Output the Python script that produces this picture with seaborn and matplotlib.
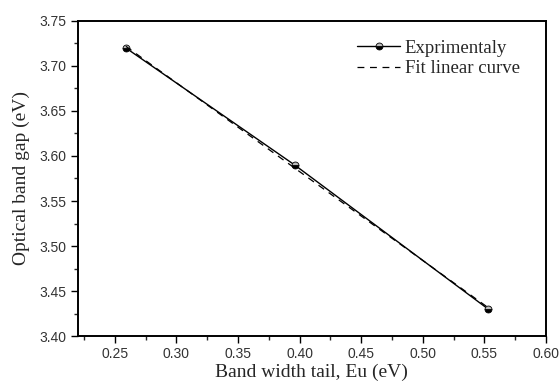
import numpy as np
import seaborn as sns
import matplotlib.pyplot as plt

# Band width tail vs optical band gap
eu = [0.259, 0.396, 0.553]
gap = [3.720, 3.590, 3.430]

sns.set_style("ticks")
plt.rcParams['font.family'] = ['Liberation Sans', 'DejaVu Sans']

fig = plt.figure(figsize=(5.6, 3.81), dpi=100)
ax = fig.add_axes([0.139, 0.118, 0.836, 0.827])

# linear fit
slope, icpt = np.polyfit(eu, gap, 1)
fit_x = np.array([eu[0], eu[-1]])
fit_y = slope * fit_x + icpt

sns.lineplot(x=eu, y=gap, ax=ax, color='black', lw=1.0, marker='o', markersize=5,
             fillstyle='bottom', markerfacecoloralt='#bbbbbb', markeredgecolor='black',
             markeredgewidth=0.6, label='Exprimentaly')
sns.lineplot(x=fit_x, y=fit_y, ax=ax, color='black', lw=0.9, ls=(0, (5.5, 4.5)),
             label='Fit linear curve')

ax.set_xlim(0.22, 0.60)
ax.set_ylim(3.40, 3.75)
ax.set_xticks(np.arange(0.25, 0.601, 0.05))
ax.set_yticks(np.arange(3.40, 3.751, 0.05))
ax.set_xticks(np.arange(0.225, 0.60, 0.05), minor=True)
ax.set_yticks(np.arange(3.425, 3.75, 0.05), minor=True)
ax.tick_params(which='major', direction='out', length=5, width=1, labelsize=10,
               colors='black', labelcolor='#333333', pad=3)
ax.tick_params(which='minor', direction='out', length=3, width=1)
for s in ax.spines.values():
    s.set_visible(True)
    s.set_linewidth(1.4)
    s.set_color('black')

ax.set_xlabel('Band width tail, Eu (eV)', family='Liberation Serif', fontsize=14, labelpad=2)
ax.set_ylabel('Optical band gap (eV)', family='Liberation Serif', fontsize=14, labelpad=7)

leg = ax.legend(loc='upper right', frameon=False, prop={'family': 'Liberation Serif', 'size': 13.5},
                handlelength=2.3, handletextpad=0.25, labelspacing=0.2,
                bbox_to_anchor=(0.98, 0.995))

fig.savefig('out.png', dpi=100)
